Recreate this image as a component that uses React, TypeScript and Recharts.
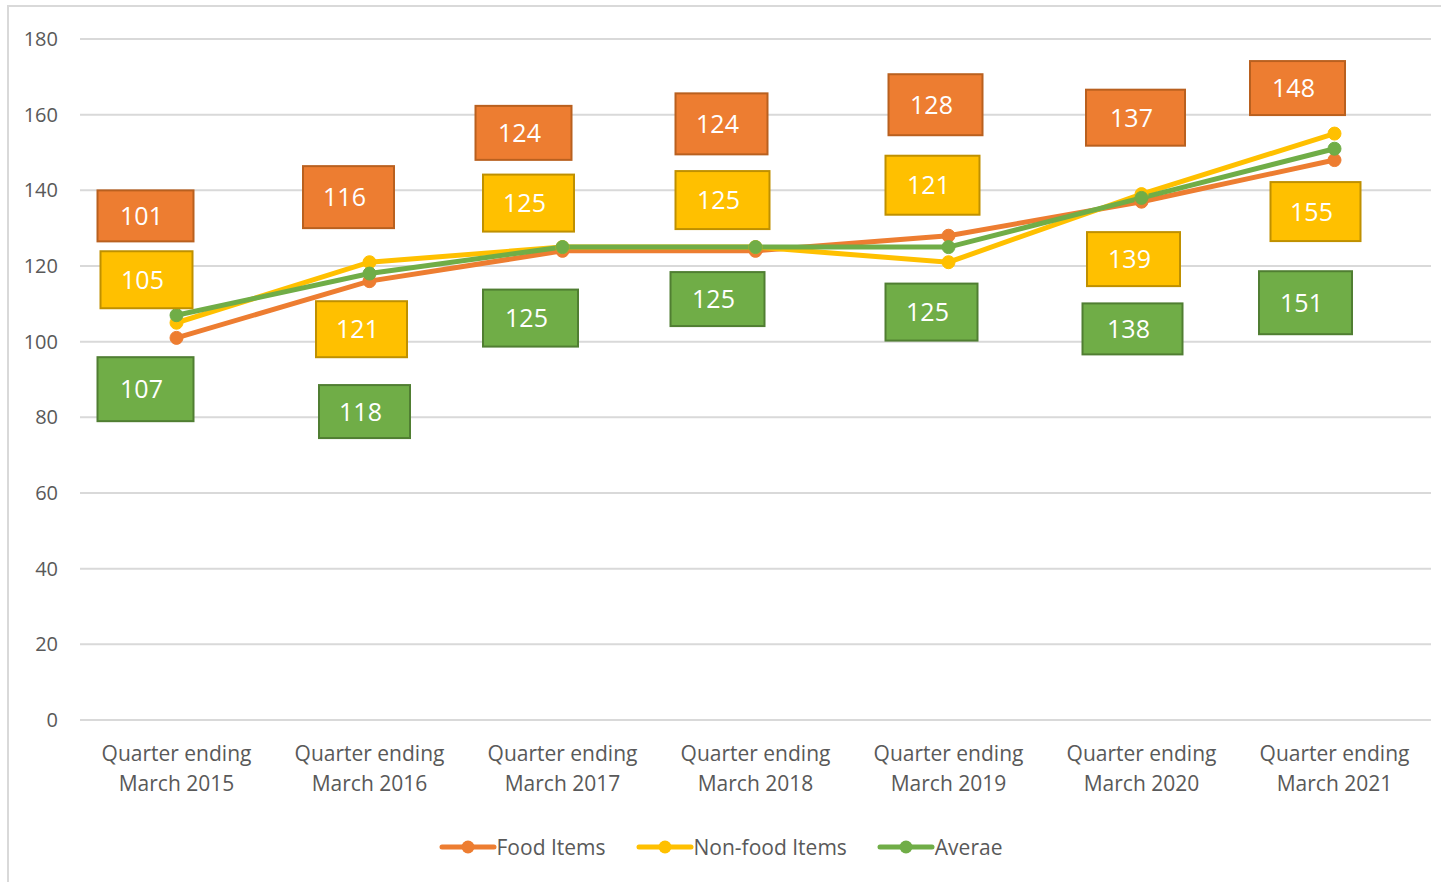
import { LineChart, Line, XAxis, YAxis, CartesianGrid, LabelList } from 'recharts';

const quarters = [
  'Quarter ending March 2015',
  'Quarter ending March 2016',
  'Quarter ending March 2017',
  'Quarter ending March 2018',
  'Quarter ending March 2019',
  'Quarter ending March 2020',
  'Quarter ending March 2021',
];
const foodItems = [101, 116, 124, 124, 128, 137, 148];
const nonFoodItems = [105, 121, 125, 125, 121, 139, 155];
const average = [107, 118, 125, 125, 125, 138, 151];
const yTicks = [0, 20, 40, 60, 80, 100, 120, 140, 160, 180];

const data = quarters.map((q, i) => ({
  quarter: q,
  food: foodItems[i],
  nonFood: nonFoodItems[i],
  avg: average[i],
}));

// label box placement, Excel style manual positions: [dx, dy, w, h] from the point
const foodBoxes = [
  [-31, -122, 96, 51], [-21, -84, 91, 62], [-39, -118, 96, 54], [-34, -127, 92, 61],
  [-13, -131, 94, 61], [-6, -84, 99, 56], [-37, -72, 95, 54],
];
const nonFoodBoxes = [
  [-30, -43, 92, 57], [-8, 67, 91, 56], [-34, -44, 91, 57], [-33, -47, 94, 58],
  [-16, -77, 94, 59], [-8, 65, 93, 54], [-19, 78, 90, 59],
];
const avgBoxes = [
  [-31, 74, 96, 64], [-5, 138, 91, 53], [-32, 71, 95, 57], [-38, 52, 94, 54],
  [-17, 65, 92, 57], [-9, 131, 100, 51], [-29, 154, 93, 63],
];

const FONT = '"Open Sans", sans-serif';
const GREY = '#595959';

const BoxLabel = (props: any) => {
  const { x, y, value, index, boxes, boxFill, boxStroke } = props;
  const [dx, dy, w, h] = boxes[index];
  const cx = x + dx;
  const cy = y + dy;
  return (
    <g>
      <rect x={cx - w / 2} y={cy - h / 2} width={w} height={h} fill={boxFill} stroke={boxStroke} strokeWidth={2} />
      <text x={cx - 4} y={cy} dy="0.36em" textAnchor="middle" fill="#fff" fontSize={25} fontFamily={FONT}>
        {value}
      </text>
    </g>
  );
};

const QuarterTick = ({ x, y, payload }: any) => {
  const words = payload.value.split(' ');
  return (
    <text x={x} y={y} textAnchor="middle" fill={GREY} fontSize={21} fontFamily={FONT}>
      <tspan x={x} dy={39}>{words.slice(0, 2).join(' ')}</tspan>
      <tspan x={x} dy={30}>{words.slice(2).join(' ')}</tspan>
    </text>
  );
};

const legendItems = [
  { name: 'Food Items', color: '#ED7D31' },
  { name: 'Non-food Items', color: '#FFC000' },
  { name: 'Averae', color: '#70AD47' },
];

export default function App() {
  return (
    <div style={{ position: 'absolute', left: 0, top: 0, width: 1441, height: 882, overflow: 'hidden', background: '#fff' }}>
      <div style={{ position: 'absolute', left: 7, top: 5, width: 1460, height: 900, border: '2px solid #d9d9d9' }} />
      <div style={{ position: 'absolute', left: 0, top: 0 }}>
        <LineChart width={1441} height={882} data={data} margin={{ top: 39, right: 10, left: 0, bottom: 72 }}>
          <CartesianGrid vertical={false} stroke="#d9d9d9" strokeWidth={2} />
          <XAxis
            dataKey="quarter"
            axisLine={false}
            tickLine={false}
            tickSize={0}
            height={90}
            interval={0}
            padding={{ left: 96.5, right: 96.5 }}
            tick={<QuarterTick />}
          />
          <YAxis
            domain={[0, 180]}
            ticks={yTicks}
            axisLine={false}
            tickLine={false}
            tickSize={0}
            tickMargin={22}
            width={80}
            tick={{ fill: GREY, fontSize: 20, fontFamily: FONT }}
          />
          <Line dataKey="food" stroke="#ED7D31" strokeWidth={5} dot={{ r: 6.5, fill: '#ED7D31', stroke: '#ED7D31', strokeWidth: 1 }} isAnimationActive={false}>
            <LabelList dataKey="food" content={<BoxLabel boxes={foodBoxes} boxFill="#ED7D31" boxStroke="#B9601F" />} />
          </Line>
          <Line dataKey="nonFood" stroke="#FFC000" strokeWidth={5} dot={{ r: 6.5, fill: '#FFC000', stroke: '#FFC000', strokeWidth: 1 }} isAnimationActive={false}>
            <LabelList dataKey="nonFood" content={<BoxLabel boxes={nonFoodBoxes} boxFill="#FFC000" boxStroke="#BF9000" />} />
          </Line>
          <Line dataKey="avg" stroke="#70AD47" strokeWidth={5} dot={{ r: 6.5, fill: '#70AD47', stroke: '#70AD47', strokeWidth: 1 }} isAnimationActive={false}>
            <LabelList dataKey="avg" content={<BoxLabel boxes={avgBoxes} boxFill="#70AD47" boxStroke="#507E32" />} />
          </Line>
        </LineChart>
      </div>
      <div style={{ position: 'absolute', left: 0, top: 833, width: 1441, display: 'flex', justifyContent: 'center', gap: 30, fontFamily: FONT, fontSize: 21, color: GREY }}>
        {legendItems.map((it) => (
          <div key={it.name} style={{ display: 'flex', alignItems: 'center' }}>
            <svg width={58} height={28}>
              <line x1={3} y1={14} x2={55} y2={14} stroke={it.color} strokeWidth={5} strokeLinecap="round" />
              <circle cx={29} cy={14} r={6.5} fill={it.color} />
            </svg>
            <span style={{ lineHeight: '28px' }}>{it.name}</span>
          </div>
        ))}
      </div>
    </div>
  );
}
